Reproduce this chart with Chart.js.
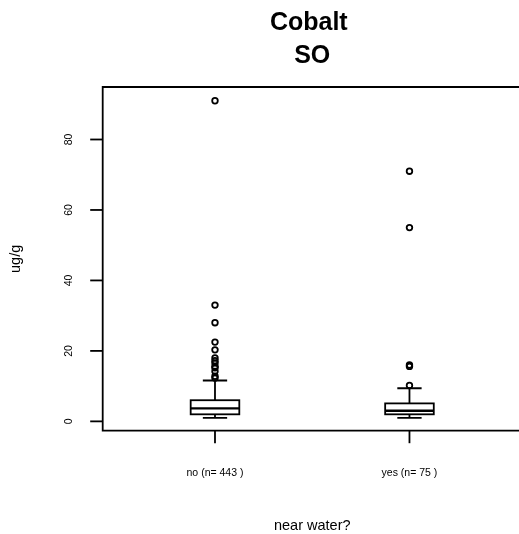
<!DOCTYPE html>
<html>
<head>
<meta charset="utf-8">
<script src="https://cdn.jsdelivr.net/npm/chart.js@4"></script>
<style>
  html, body { margin: 0; padding: 0; background: #fff; overflow: hidden; }
  #wrap { width: 540px; height: 534px; }
</style>
</head>
<body>
<div id="wrap"><canvas id="myChart" width="540" height="534"></canvas></div>
<script>
// setup
const groups = ['no', 'yes'];
const groupN = [443, 75];
const whiskerLow = [1.0, 1.0];
const q1 = [2.0, 2.0];
const medians = [3.7, 3.0];
const q3 = [6.0, 5.1];
const whiskerHigh = [11.6, 9.4];
const outliersNo = [91, 33, 28, 22.5, 20.3, 18, 17.2, 16.6, 15.6, 15.2, 14.2, 12.8, 12.3];
const outliersYes = [71, 55, 16, 15.6, 10.2];
const yTicks = [0, 20, 40, 60, 80];

const FONT = "'Liberation Sans', Arial, Helvetica, sans-serif";

const outlierPoints = [];
outliersNo.forEach(v => outlierPoints.push({ x: 1, y: v }));
outliersYes.forEach(v => outlierPoints.push({ x: 2, y: v }));

// boxes, frame, axes and titles
const boxPlot = {
  id: 'boxPlot',
  beforeDatasetsDraw(chart) {
    const ctx = chart.ctx;
    const xs = chart.scales.x, ys = chart.scales.y;
    ctx.save();
    ctx.strokeStyle = '#000';
    ctx.lineCap = 'butt';
    groups.forEach((g, i) => {
      const cx = xs.getPixelForValue(i + 1);
      const bw = xs.getPixelForValue(i + 1 + 0.125) - cx;
      const cw = xs.getPixelForValue(i + 1 + 0.0625) - cx;
      const yLo = ys.getPixelForValue(whiskerLow[i]);
      const yQ1 = ys.getPixelForValue(q1[i]);
      const yMed = ys.getPixelForValue(medians[i]);
      const yQ3 = ys.getPixelForValue(q3[i]);
      const yHi = ys.getPixelForValue(whiskerHigh[i]);
      ctx.lineWidth = 1.8;
      ctx.beginPath();
      ctx.moveTo(cx, yLo); ctx.lineTo(cx, yQ1);
      ctx.moveTo(cx, yQ3); ctx.lineTo(cx, yHi);
      ctx.moveTo(cx - cw, yLo); ctx.lineTo(cx + cw, yLo);
      ctx.moveTo(cx - cw, yHi); ctx.lineTo(cx + cw, yHi);
      ctx.stroke();
      ctx.strokeRect(cx - bw, yQ3, 2 * bw, yQ1 - yQ3);
      ctx.lineWidth = 2.4;
      ctx.beginPath();
      ctx.moveTo(cx - bw, yMed); ctx.lineTo(cx + bw, yMed);
      ctx.stroke();
    });
    ctx.restore();
  },
  afterDraw(chart) {
    const ctx = chart.ctx;
    const a = chart.chartArea;
    const xs = chart.scales.x, ys = chart.scales.y;
    ctx.save();
    ctx.strokeStyle = '#000';
    ctx.fillStyle = '#000';
    ctx.lineWidth = 1.8;
    // frame
    ctx.beginPath();
    ctx.moveTo(a.right, a.top); ctx.lineTo(a.left, a.top);
    ctx.lineTo(a.left, a.bottom); ctx.lineTo(a.right, a.bottom);
    ctx.lineTo(a.right, a.top);
    ctx.stroke();
    // y axis ticks
    ctx.font = '10.5px ' + FONT;
    ctx.textAlign = 'center';
    ctx.textBaseline = 'middle';
    yTicks.forEach(t => {
      const py = ys.getPixelForValue(t);
      ctx.beginPath();
      ctx.moveTo(a.left - 12.5, py); ctx.lineTo(a.left, py);
      ctx.stroke();
      ctx.save();
      ctx.translate(69, py);
      ctx.rotate(-Math.PI / 2);
      ctx.fillText(String(t), 0, 0);
      ctx.restore();
    });
    // x axis ticks
    groups.forEach((g, i) => {
      const px = xs.getPixelForValue(i + 1);
      ctx.beginPath();
      ctx.moveTo(px, a.bottom); ctx.lineTo(px, a.bottom + 12.5);
      ctx.stroke();
      ctx.fillText(g + ' (n= ' + groupN[i] + ' )', px, 473);
    });
    // titles
    const mid = (a.left + a.right) / 2;
    ctx.font = 'bold 25px ' + FONT;
    ctx.textBaseline = 'alphabetic';
    ctx.fillText('Cobalt ', mid, 29.5);
    ctx.fillText('SO', mid, 62.5);
    ctx.font = '14.5px ' + FONT;
    ctx.textBaseline = 'middle';
    ctx.fillText('near water?', mid, 526);
    ctx.save();
    ctx.translate(16, (a.top + a.bottom) / 2);
    ctx.rotate(-Math.PI / 2);
    ctx.fillText('ug/g', 0, 0);
    ctx.restore();
    ctx.restore();
  }
};

const data = {
  datasets: [{
    label: 'outliers',
    data: outlierPoints,
    pointStyle: 'circle',
    pointRadius: 2.8,
    pointBorderWidth: 1.8,
    pointBorderColor: '#000',
    pointBackgroundColor: 'rgba(0,0,0,0)',
    showLine: false
  }]
};

// config
const config = {
  type: 'scatter',
  data,
  options: {
    responsive: false,
    animation: false,
    events: [],
    layout: { padding: { left: 102.7, top: 87, right: 18.2, bottom: 103.3 } },
    plugins: { legend: { display: false }, tooltip: { enabled: false }, title: { display: false } },
    scales: {
      x: { type: 'linear', display: false, min: 0.4226, max: 2.5776 },
      y: { type: 'linear', display: false, min: -2.65, max: 94.9 }
    }
  },
  plugins: [boxPlot]
};

// render init block
const myChart = new Chart(document.getElementById('myChart'), config);
</script>
</body>
</html>
